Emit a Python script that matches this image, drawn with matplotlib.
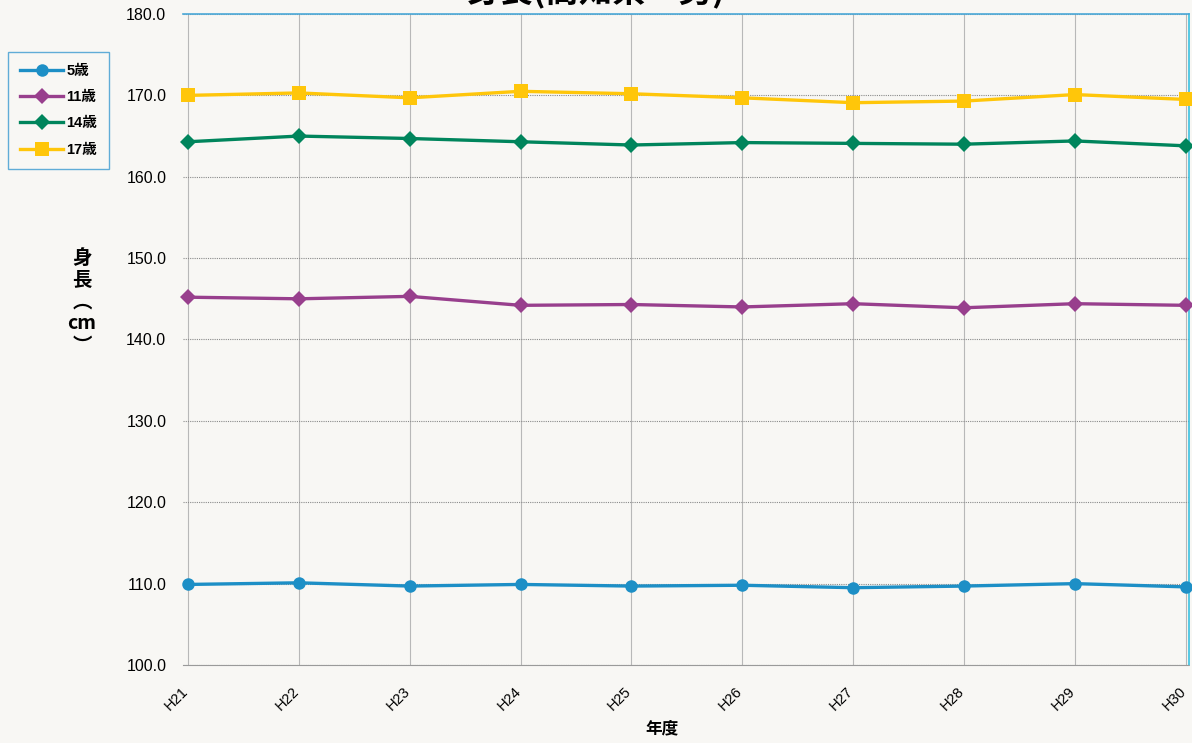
import matplotlib
matplotlib.use("Agg")
import matplotlib.pyplot as plt
from matplotlib.transforms import ScaledTranslation

plt.rcParams['font.family'] = ['Liberation Sans', 'Noto Sans CJK JP', 'DejaVu Sans']

years = ["H21", "H22", "H23", "H24", "H25", "H26", "H27", "H28", "H29", "H30"]
age5 = [109.9, 110.1, 109.7, 109.9, 109.7, 109.8, 109.5, 109.7, 110.0, 109.6]
age11 = [145.2, 145.0, 145.3, 144.2, 144.3, 144.0, 144.4, 143.9, 144.4, 144.2]
age14 = [164.3, 165.0, 164.7, 164.3, 163.9, 164.2, 164.1, 164.0, 164.4, 163.8]
age17 = [170.0, 170.3, 169.7, 170.5, 170.2, 169.7, 169.1, 169.3, 170.1, 169.5]
series_names = ["5歳", "11歳", "14歳", "17歳"]
y_ticks = [100, 110, 120, 130, 140, 150, 160, 170, 180]

W, H = 1192, 743
fig = plt.figure(figsize=(W / 100, H / 100), dpi=100, facecolor='#f8f7f4')
ax = fig.add_axes([183 / W, 1 - 665 / H, (1189 - 183) / W, (665 - 14) / H])
ax.set_facecolor('#f8f7f4')

x = list(range(len(years)))
styles = [
    (age5, '#1d8fc6', 'o', 9),
    (age11, '#983f8d', 'D', 8),
    (age14, '#00855c', 'D', 8),
    (age17, '#ffc60a', 's', 10),
]
for (vals, col, mk, ms), name in zip(styles, series_names):
    ax.plot(x, vals, color=col, marker=mk, markersize=ms, linewidth=2.4,
            markeredgewidth=0, label=name, zorder=3, clip_on=False)

ax.set_xlim(-0.045, 9.03)
ax.set_ylim(100, 180)
ax.set_yticks(y_ticks)
ax.set_yticklabels([f"{v:.1f}" for v in y_ticks], fontsize=11.5)
ax.set_xticks(x)
ax.set_xticklabels(years, rotation=45, fontsize=10.5, ha='right', rotation_mode='anchor')
ax.tick_params(axis='both', length=0, pad=12)
ax.tick_params(axis='x', pad=14)
shift = ScaledTranslation(-7 / 100, 0, fig.dpi_scale_trans)
for lbl in ax.get_xticklabels():
    lbl.set_transform(lbl.get_transform() + shift)

ax.grid(axis='x', color='#b8b8b8', linewidth=0.8, linestyle='-')
ax.grid(axis='y', color='#8a8a8a', linewidth=0.8, linestyle=(0, (1, 1)))
ax.set_axisbelow(True)

ax.spines['left'].set_visible(False)
ax.spines['bottom'].set_color('#9a9a9a')
ax.spines['bottom'].set_linewidth(0.8)
ax.spines['bottom'].set_linestyle((0, (1, 1)))
ax.spines['top'].set_color('#4aa8d8')
ax.spines['top'].set_linewidth(1.2)
ax.spines['right'].set_color('#38c0e0')
ax.spines['right'].set_linewidth(1.2)

# title (partially cut off at top, as in the scan)
fig.text(596 / W, 1 - 9 / H, "身長(高知県・男)", ha='center', va='bottom',
         fontsize=24, fontweight='bold', family=['Noto Sans CJK JP'])

# axis labels
fig.text(662 / W, 1 - 728 / H, "年度", ha='center', va='center',
         fontsize=12, fontweight='bold', family=['Noto Sans CJK JP'])
fig.text(82 / W, 1 - 302 / H, "身\n長\n︵\ncm\n︶", ha='center', va='center',
         fontsize=14, fontweight='bold', family=['Noto Sans CJK JP'], linespacing=1.2)

leg = ax.legend(loc='upper left', bbox_to_anchor=(8 / W, 1 - 52 / H),
                bbox_transform=fig.transFigure, frameon=True, fancybox=False,
                prop={'family': ['Liberation Sans', 'Noto Sans CJK JP'], 'weight': 'bold', 'size': 10.5},
                handlelength=3.0, handletextpad=0.2, labelspacing=0.85,
                borderpad=0.8, borderaxespad=0, markerscale=1.0)
leg.get_frame().set_edgecolor('#3a9ad0')
leg.get_frame().set_linewidth(1.0)
leg.get_frame().set_facecolor('#f8f7f4')

fig.savefig("out.png", dpi=100, facecolor=fig.get_facecolor())
